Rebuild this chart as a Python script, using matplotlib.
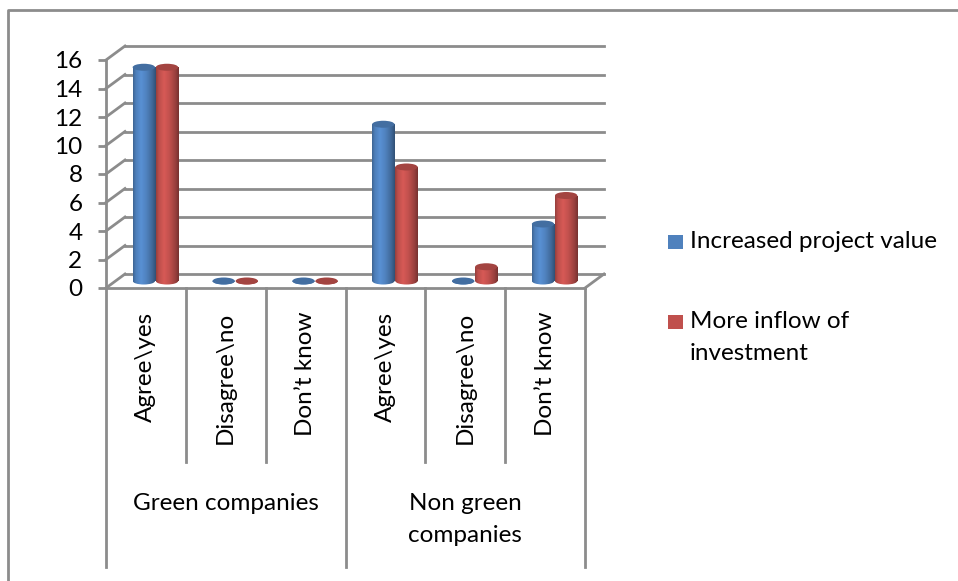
import matplotlib
matplotlib.use("Agg")
import matplotlib.pyplot as plt  # noqa: E402
import matplotlib.transforms as mtransforms  # noqa: E402
from matplotlib.patches import Ellipse, Rectangle  # noqa: E402
from matplotlib.lines import Line2D  # noqa: E402
import numpy as np  # noqa: E402

# data
groups = ["Green companies", "Non green\ncompanies"]
answers = ["Agree\\yes", "Disagree\\no", "Don\u2019t know"]
series = ["Increased project value", "More inflow of\ninvestment"]
project_value = [15, 0, 0, 11, 0, 4]
investment_inflow = [15, 0, 0, 8, 1, 6]
y_ticks = list(range(0, 17, 2))

colors = ["#4F81BD", "#C0504D"]
grid_c = "#8C8C8C"
FS = 17.5

W, H, DPI = 958, 581, 100
plt.rcParams["font.family"] = ["Lato", "DejaVu Sans"]
fig = plt.figure(figsize=(W / DPI, H / DPI), dpi=DPI)

# front plane of the plot area in pixels
x0, x1, ybot, ytop = 106, 585, 288, 60
ax = fig.add_axes([x0 / W, 1 - ybot / H, (x1 - x0) / W, (ybot - ytop) / H])
ncat = len(groups) * len(answers)
ax.set_xlim(-0.5, ncat - 0.5)
ax.set_ylim(0, 16)

# depth of the 3d box, converted from pixels to data units
px_x = (x1 - x0) / ncat
px_y = (ybot - ytop) / 16
ddx, ddy = 19 / px_x, 14 / px_y

for s in ["top", "right", "bottom"]:
    ax.spines[s].set_visible(False)
ax.spines["left"].set_color(grid_c)
ax.spines["left"].set_linewidth(2)
ax.set_xticks([])
ax.set_yticks(y_ticks)
ax.tick_params(axis="y", length=6, width=2, color=grid_c, pad=11, labelsize=FS)

lo, hi = -0.5, ncat - 0.5
for v in y_ticks:
    ax.plot([lo + ddx, hi + ddx], [v + ddy, v + ddy], color=grid_c, lw=2, clip_on=False, zorder=1)
    ax.plot([lo, lo + ddx], [v, v + ddy], color=grid_c, lw=2, clip_on=False, zorder=1)
# floor front and right edge
ax.plot([lo, hi], [0, 0], color=grid_c, lw=2, clip_on=False, zorder=1)
ax.plot([hi, hi + ddx], [0, ddy], color=grid_c, lw=2, clip_on=False, zorder=1)

# cylinders
bw = 0.28
eh = 7 / px_y
t = np.linspace(0, 1, 64)
shade = np.interp(t, [0, 0.12, 0.35, 0.6, 0.85, 1], [0.78, 0.98, 1.12, 1.0, 0.8, 0.62])
x = np.arange(ncat)
for k, (vals, c) in enumerate(zip([project_value, investment_inflow], colors)):
    base = np.array(matplotlib.colors.to_rgb(c))
    grad = np.clip(shade[:, None] * base[None, :], 0, 1)[None, :, :]
    off = (k - 0.5) * (bw + 0.01)
    xc = x + off + ddx / 2
    b = ddy / 2
    for xi, v in zip(xc, vals):
        left, right = xi - bw / 2, xi + bw / 2
        bot_el = Ellipse((xi, b), bw, eh, facecolor="none", edgecolor="none")
        ax.add_patch(bot_el)
        im = ax.imshow(grad, extent=(left, right, b - eh, b + v), aspect="auto",
                       zorder=3, interpolation="bilinear")
        im.set_clip_path(bot_el)
        if v > 0:
            rect = Rectangle((left, b), bw, v, facecolor="none", edgecolor="none")
            ax.add_patch(rect)
            im2 = ax.imshow(grad, extent=(left, right, b, b + v), aspect="auto",
                            zorder=3, interpolation="bilinear")
            im2.set_clip_path(rect)
        top_c = np.clip(base * 0.85, 0, 1)
        ax.add_patch(Ellipse((xi, b + v), bw, eh, facecolor=top_c, edgecolor="none", zorder=4))

ax.set_xlim(-0.5, ncat - 0.5)
ax.set_ylim(0, 16)

# category labels and separators below the floor
tr = mtransforms.blended_transform_factory(ax.transData, ax.transAxes)
ax_h = ybot - ytop
for i in range(ncat):
    ax.text(i, -24 / ax_h, answers[i % len(answers)], rotation=90, ha="center", va="top",
            fontsize=FS, transform=tr)
for j in range(ncat + 1):
    edge = j - 0.5
    depth = 567 if j % len(answers) == 0 else 462
    ax.plot([edge, edge], [0, -(depth - ybot) / ax_h], color=grid_c, lw=2,
            transform=tr, clip_on=False)
for g, name in enumerate(groups):
    ax.text(g * len(answers) + 1, -(493 - ybot) / ax_h, name, ha="center", va="top",
            fontsize=FS, transform=tr, linespacing=1.62)

# legend
for k, (name, c) in enumerate(zip(series, colors)):
    yc = [242, 322][k]
    fig.patches.append(Rectangle((668 / W, 1 - (yc + 7) / H), 15 / W, 14 / H,
                                 facecolor=c, edgecolor="none", transform=fig.transFigure))
    fig.text(690 / W, 1 - (yc - 11) / H, name, fontsize=FS, va="top", linespacing=1.62)

# outer chart border
fig.add_artist(Line2D([8 / W, 8 / W, 1], [0, 1 - 10 / H, 1 - 10 / H], color=grid_c, lw=2,
                      transform=fig.transFigure))

fig.savefig("out.png", dpi=DPI)
